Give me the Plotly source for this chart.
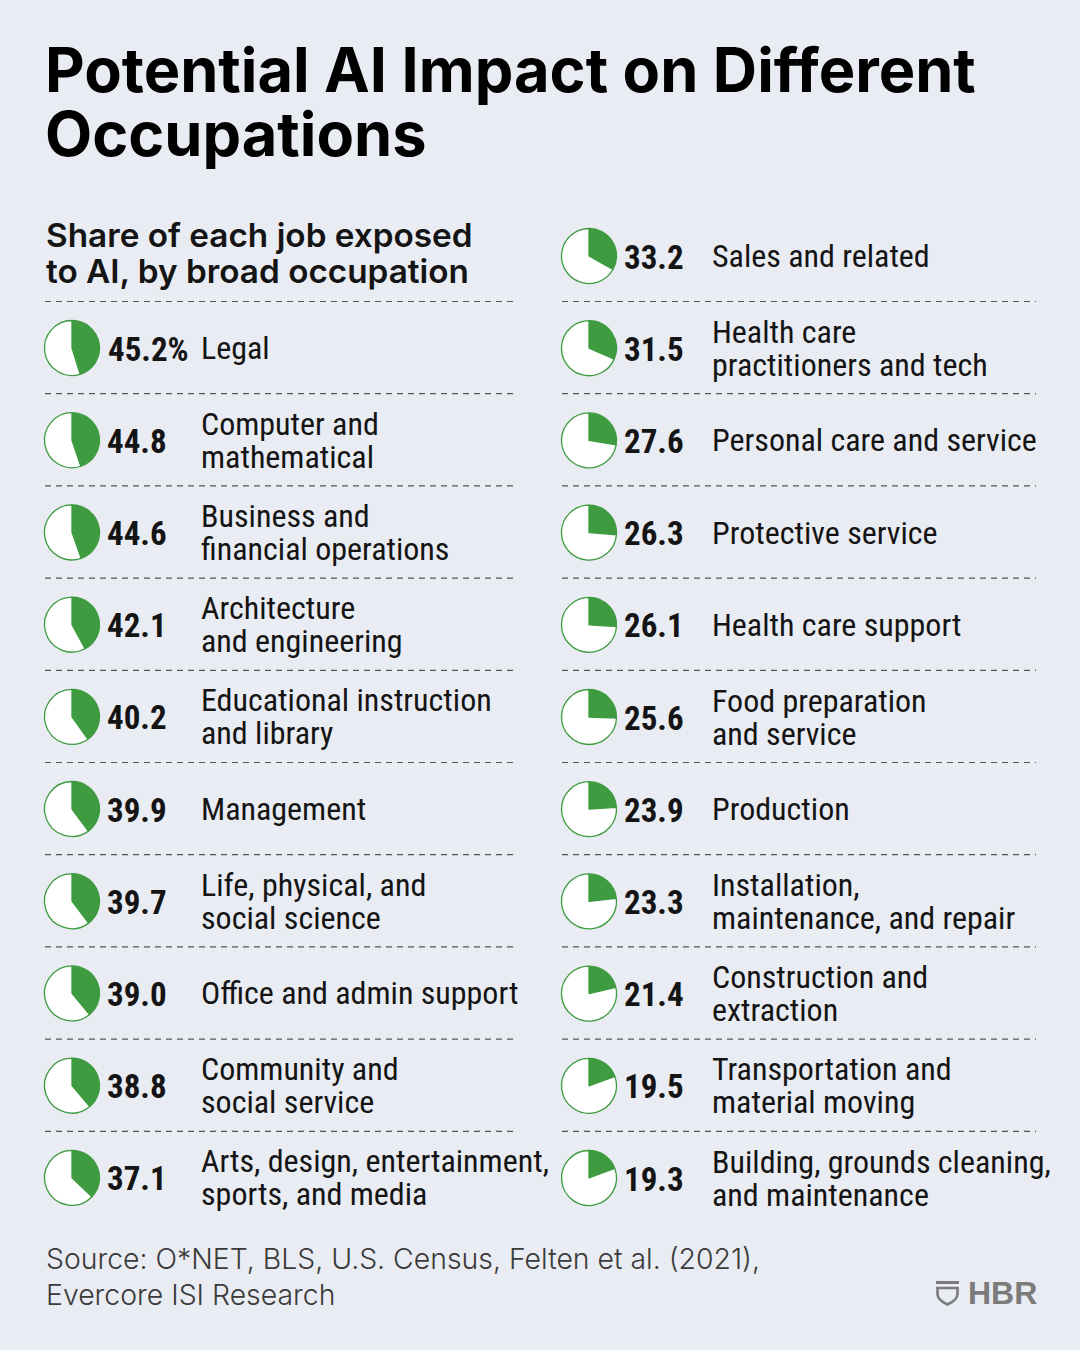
import plotly.graph_objects as go

# ---------------- data ----------------
left_labels = [
    ["Legal"],
    ["Computer and", "mathematical"],
    ["Business and", "financial operations"],
    ["Architecture", "and engineering"],
    ["Educational instruction", "and library"],
    ["Management"],
    ["Life, physical, and", "social science"],
    ["Office and admin support"],
    ["Community and", "social service"],
    ["Arts, design, entertainment,", "sports, and media"],
]
left_values = [45.2, 44.8, 44.6, 42.1, 40.2, 39.9, 39.7, 39.0, 38.8, 37.1]

right_labels = [
    ["Sales and related"],
    ["Health care", "practitioners and tech"],
    ["Personal care and service"],
    ["Protective service"],
    ["Health care support"],
    ["Food preparation", "and service"],
    ["Production"],
    ["Installation,", "maintenance, and repair"],
    ["Construction and", "extraction"],
    ["Transportation and", "material moving"],
    ["Building, grounds cleaning,", "and maintenance"],
]
right_values = [33.2, 31.5, 27.6, 26.3, 26.1, 25.6, 23.9, 23.3, 21.4, 19.5, 19.3]

title_lines = ["Potential AI Impact on Different", "Occupations"]
subtitle_lines = ["Share of each job exposed", "to AI, by broad occupation"]
source_lines = ["Source: O*NET, BLS, U.S. Census, Felten et al. (2021),", "Evercore ISI Research"]

# ---------------- styles ----------------
W, H = 1080, 1350
BG = "#E9ECF2"
GREEN = "#3E9B40"
INK = "#141414"
COND = "Roboto, sans-serif"
SANS = "Inter, Roboto, Liberation Sans, sans-serif"
ROW = 92.2
R = 27.5


def cond(t):
    return f"<span style='font-stretch:condensed'>{t}</span>"


fig = go.Figure()
shapes = []
annotations = []


def add_column(labels, values, y0, pie_cx, num_x, lab_x, first_pct=False):
    for i, (lab, v) in enumerate(zip(labels, values)):
        cy = y0 + i * ROW
        fig.add_trace(go.Pie(
            values=[v, 100 - v],
            marker=dict(colors=[GREEN, "#FFFFFF"], line=dict(color=GREEN, width=1.3)),
            sort=False, direction="clockwise", rotation=0,
            textinfo="none", hoverinfo="skip", showlegend=False,
            domain=dict(x=[(pie_cx - R) / W, (pie_cx + R) / W],
                        y=[1 - (cy + R) / H, 1 - (cy - R) / H]),
        ))
        is_pct = first_pct and i == 0
        txt = f"{v:.1f}%" if is_pct else f"{v:.1f}"
        annotations.append(dict(
            x=106 if is_pct else num_x, y=cy + 1, xref="x", yref="y", text=cond(txt),
            showarrow=False, xanchor="left" if is_pct else "right", yanchor="middle",
            font=dict(family=COND, size=33, color=INK, weight="bold"),
        ))
        n = len(lab)
        for k, line in enumerate(lab):
            off = (k - (n - 1) / 2) * 33
            annotations.append(dict(
                x=lab_x, y=cy + off, xref="x", yref="y", text=cond(line), showarrow=False,
                xanchor="left", yanchor="middle",
                font=dict(family=COND, size=32, color=INK),
            ))


add_column(left_labels, left_values, 348, 72, 169, 199, first_pct=True)
add_column(right_labels, right_values, 256, 589, 686, 710)

# dashed separators
for k in range(10):
    y = 301.5 + k * ROW
    for x0, x1 in [(45, 518), (562, 1036)]:
        shapes.append(dict(type="line", xref="x", yref="y", x0=x0, x1=x1, y0=y, y1=y,
                           line=dict(color="#555555", width=1.2, dash="6px,5px")))

# title
for k, t in enumerate(title_lines):
    annotations.append(dict(x=43, y=70 + k * 64, xref="x", yref="y", text=t, showarrow=False,
                            xanchor="left", yanchor="middle",
                            font=dict(family=SANS, size=61.3, color="#000000", weight="bold")))
# subtitle
for k, t in enumerate(subtitle_lines):
    annotations.append(dict(x=44, y=235 + k * 36, xref="x", yref="y", text=t, showarrow=False,
                            xanchor="left", yanchor="middle",
                            font=dict(family=SANS, size=33.3, color=INK, weight=600)))
# source
for k, t in enumerate(source_lines):
    annotations.append(dict(x=44, y=1258 + k * 36, xref="x", yref="y", text=t, showarrow=False,
                            xanchor="left", yanchor="middle",
                            font=dict(family=SANS, size=28.4, color="#3a3a3a", weight=300)))

# HBR logo
LOGO = "#7b7b7b"
shapes.append(dict(type="rect", xref="x", yref="y", x0=936, x1=959, y0=1281, y1=1284,
                   fillcolor=LOGO, line=dict(width=0)))
shapes.append(dict(type="path", xref="x", yref="y",
                   path="M 937.5 1288 L 957.5 1288 L 957.5 1294 Q 957.5 1300 947.5 1304.5 Q 937.5 1300 937.5 1294 Z",
                   line=dict(color=LOGO, width=2.6), fillcolor="rgba(0,0,0,0)"))
annotations.append(dict(x=966, y=1293, xref="x", yref="y", text="HBR", showarrow=False,
                        xanchor="left", yanchor="middle",
                        font=dict(family="Liberation Sans, Arial, sans-serif", size=32, color=LOGO, weight="bold")))

fig.update_layout(
    width=W, height=H, margin=dict(l=0, r=0, t=0, b=0),
    paper_bgcolor=BG, plot_bgcolor=BG,
    xaxis=dict(range=[0, W], visible=False, fixedrange=True, domain=[0, 1]),
    yaxis=dict(range=[H, 0], visible=False, fixedrange=True, domain=[0, 1]),
    shapes=shapes, annotations=annotations,
)
fig.write_html("out.html", config={"displayModeBar": False, "staticPlot": True},
               post_script="document.body.style.margin='0';document.body.style.background='#E9ECF2';")
